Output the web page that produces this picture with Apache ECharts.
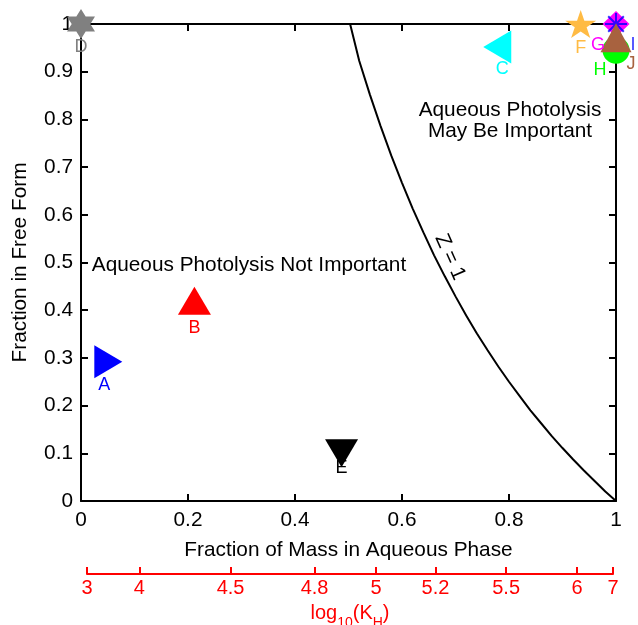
<!DOCTYPE html>
<html>
<head>
<meta charset="utf-8">
<script src="https://cdn.jsdelivr.net/npm/echarts@6/dist/echarts.min.js"></script>
<style>
    html, body { margin: 0; padding: 0; background: #fff; }
    #chart { width: 638px; height: 625px; }
</style>
</head>
<body>
<div id="chart"></div>
<script>
    // compounds: fraction of mass in aqueous phase vs fraction in free form
    const pointNames = ['A', 'B', 'C', 'D', 'E', 'F', 'G', 'H', 'I', 'J'];
    const fracAqueous = [0.051, 0.212, 0.778, 0.0, 0.487, 0.934, 1.0, 1.0, 1.0, 1.0];
    const fracFree = [0.292, 0.42, 0.952, 1.0, 0.1, 1.0, 1.0, 0.945, 1.0, 0.971];

    // Z = 1 boundary
    const zCurveX = [0.503, 0.52, 0.54, 0.56, 0.58, 0.60, 0.62, 0.64, 0.66, 0.68, 0.70, 0.72,
        0.74, 0.76, 0.78, 0.80, 0.82, 0.84, 0.86, 0.88, 0.90, 0.92, 0.94, 0.96, 0.98, 1.0];
    const zCurveY = [1.0, 0.923, 0.852, 0.786, 0.724, 0.667, 0.613, 0.563, 0.515, 0.471, 0.429, 0.389,
        0.351, 0.316, 0.282, 0.25, 0.22, 0.19, 0.163, 0.136, 0.111, 0.087, 0.064, 0.042, 0.02, 0.0];

    // red log10(KH) scale, position of each tick on the aqueous-fraction axis
    const khLabels = ['3', '4', '4.5', '4.8', '5', '5.2', '5.5', '6', '7'];
    const khFrac = [0.0107, 0.1084, 0.279, 0.436, 0.551, 0.662, 0.794, 0.9265, 0.9938];

    const FONT = '"Liberation Sans", Arial, Helvetica, sans-serif';
    const FS = 20.8;

    const hexagram = 'path://M0,-10 L8.66,5 L-8.66,5 Z M0,10 L-8.66,-5 L8.66,-5 Z';
    const pentagram = 'path://M0,-10 L2.245,-3.09 L9.511,-3.09 L3.633,1.18 L5.878,8.09 L0,3.82 ' +
        'L-5.878,8.09 L-3.633,1.18 L-9.511,-3.09 L-2.245,-3.09 Z';
    const asterisk = 'path://M0,10 L20,10 M10,0 L10,20 M2.9,2.9 L17.1,17.1 M17.1,2.9 L2.9,17.1';

    // marker look for each compound (same order as pointNames)
    const markerStyle = [
        { symbol: 'triangle', size: [33, 28], rotate: -90, color: '#0000ff', offset: [-4, 23] },
        { symbol: 'triangle', size: [33, 28], rotate: 0, color: '#ff0000', offset: [0, 27] },
        { symbol: 'triangle', size: [33, 28], rotate: 90, color: '#00ffff', offset: [5, 22] },
        { symbol: hexagram, size: [28, 30], rotate: 0, color: '#808080', offset: [0, 23] },
        { symbol: 'triangle', size: [33, 28], rotate: 180, color: '#000000', offset: [0, 15] },
        { symbol: pentagram, size: [31, 28], rotate: 0, color: '#ffbb44', offset: [0, 24] },
        { symbol: 'diamond', size: [27, 26], rotate: 0, color: '#ff00ff', offset: [-18, 21] },
        { symbol: 'circle', size: 27, rotate: 0, color: '#00ff00', offset: [-16, 20] },
        { symbol: asterisk, size: 22, rotate: 0, color: '#0000ff', offset: [17, 21], stroke: true },
        { symbol: 'triangle', size: [31, 29], rotate: 0, color: '#a8623f', offset: [15, 26] }
    ];
    // draw order so the stacked markers at (1, 1) overlap like the original
    const drawOrder = [0, 1, 2, 3, 4, 5, 6, 8, 7, 9];

    let chart = echarts.init(document.getElementById('chart'));

    let markerSeries = drawOrder.map(i => {
        let st = markerStyle[i];
        return {
            name: pointNames[i],
            type: 'scatter',
            xAxisIndex: 0,
            yAxisIndex: 0,
            clip: false,
            z: 3,
            symbol: st.symbol,
            symbolSize: st.size,
            symbolRotate: st.rotate,
            itemStyle: st.stroke
                ? { color: 'rgba(0,0,0,0)', borderColor: st.color, borderWidth: 2 }
                : { color: st.color, opacity: 1 },
            label: {
                show: true,
                position: 'inside',
                offset: st.offset,
                formatter: pointNames[i],
                color: st.color,
                fontFamily: FONT,
                fontSize: 18
            },
            emphasis: { disabled: true },
            data: [[fracAqueous[i], fracFree[i]]]
        };
    });

    let mainAxisLine = { show: true, onZero: false, lineStyle: { color: '#000', width: 2 } };
    let mainTick = { show: true, inside: true, length: 7, lineStyle: { color: '#000', width: 2 } };
    let mainLabel = { color: '#000', fontFamily: FONT, fontSize: FS };

    let option = {
        animation: false,
        backgroundColor: '#fff',
        grid: [
            { left: 81, right: 22, top: 24, bottom: 124, outerBoundsMode: 'none' },
            { left: 87, right: 25, top: 560, bottom: 51, outerBoundsMode: 'none' }
        ],
        xAxis: [
            {
                type: 'value', gridIndex: 0, position: 'bottom', min: 0, max: 1, interval: 0.2,
                axisLine: mainAxisLine, axisTick: mainTick, splitLine: { show: false },
                axisLabel: Object.assign({ margin: 9 }, mainLabel),
                name: 'Fraction of Mass in Aqueous Phase', nameLocation: 'middle', nameGap: 39,
                nameTextStyle: { color: '#000', fontFamily: FONT, fontSize: FS }
            },
            {
                type: 'value', gridIndex: 0, position: 'top', min: 0, max: 1, interval: 0.2,
                axisLine: mainAxisLine, axisTick: mainTick, splitLine: { show: false },
                axisLabel: { show: false }
            },
            {
                type: 'value', gridIndex: 1, position: 'bottom',
                min: khFrac[0], max: khFrac[khFrac.length - 1],
                axisLine: { show: true, onZero: false, lineStyle: { color: '#ff0000', width: 2 } },
                axisTick: {
                    show: true, inside: true, length: 7, customValues: khFrac,
                    lineStyle: { color: '#ff0000', width: 2 }
                },
                splitLine: { show: false },
                axisLabel: {
                    customValues: khFrac, margin: 4, color: '#ff0000', fontFamily: FONT, fontSize: 20,
                    formatter: v => khLabels[khFrac.indexOf(v)]
                },
                name: '{a|log}{s|10}{a|(K}{s|H}{a|)}', nameLocation: 'middle', nameGap: 22,
                nameTextStyle: {
                    rich: {
                        a: { color: '#ff0000', fontFamily: FONT, fontSize: 20, lineHeight: 34, verticalAlign: 'middle' },
                        s: { color: '#ff0000', fontFamily: FONT, fontSize: 14, lineHeight: 14, verticalAlign: 'bottom' }
                    }
                }
            }
        ],
        yAxis: [
            {
                type: 'value', gridIndex: 0, position: 'left', min: 0, max: 1, interval: 0.1,
                axisLine: mainAxisLine, axisTick: mainTick, splitLine: { show: false },
                axisLabel: Object.assign({ margin: 8 }, mainLabel),
                name: 'Fraction in Free Form', nameLocation: 'middle', nameGap: 50,
                nameTextStyle: { color: '#000', fontFamily: FONT, fontSize: FS }
            },
            {
                type: 'value', gridIndex: 0, position: 'right', min: 0, max: 1, interval: 0.1,
                axisLine: mainAxisLine, axisTick: mainTick, splitLine: { show: false },
                axisLabel: { show: false }
            },
            {
                type: 'value', gridIndex: 1, show: false, min: 0, max: 1
            }
        ],
        graphic: [
            {
                type: 'text', x: 249, y: 265, z: 10,
                style: {
                    text: 'Aqueous Photolysis Not Important', fill: '#000',
                    font: FS + 'px ' + FONT, align: 'center', verticalAlign: 'middle',
                    textAlign: 'center', textVerticalAlign: 'middle'
                }
            },
            {
                type: 'text', x: 510, y: 121, z: 10,
                style: {
                    text: 'Aqueous Photolysis\nMay Be Important', fill: '#000', lineHeight: 21,
                    font: FS + 'px ' + FONT, align: 'center', verticalAlign: 'middle',
                    textAlign: 'center', textVerticalAlign: 'middle'
                }
            },
            {
                type: 'text', x: 450, y: 257, z: 10, rotation: -66 * Math.PI / 180,
                style: {
                    text: 'Z = 1', fill: '#000',
                    font: FS + 'px ' + FONT, align: 'center', verticalAlign: 'middle',
                    textAlign: 'center', textVerticalAlign: 'middle'
                }
            }
        ],
        series: [
            {
                name: 'Z = 1',
                type: 'line',
                xAxisIndex: 0,
                yAxisIndex: 0,
                showSymbol: false,
                smooth: false,
                clip: false,
                z: 2,
                lineStyle: { color: '#000', width: 2 },
                emphasis: { disabled: true },
                data: zCurveX.map((x, i) => [x, zCurveY[i]])
            }
        ].concat(markerSeries)
    };

    chart.setOption(option);
</script>
</body>
</html>
